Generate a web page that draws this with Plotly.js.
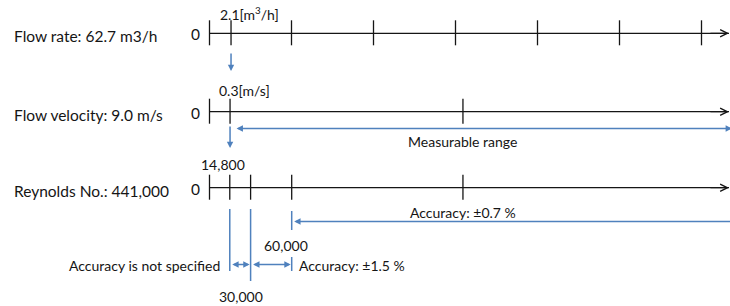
<!DOCTYPE html>
<html>
<head>
<meta charset="utf-8">
<script src="https://cdn.plot.ly/plotly-3.0.1.min.js"></script>
<style>html,body{margin:0;padding:0;background:#fff;}#chart{width:730px;height:306px;}</style>
</head>
<body>
<div id="chart"></div>
<script>
// ---- data ----
const rowLabels = ['Flow rate: 62.7 m3/h', 'Flow velocity: 9.0 m/s', 'Reynolds No.: 441,000'];
const flowTicks = [0, 2.1, 8, 16, 24, 32, 40, 48];      // m3/h
const velTicks = [0, 0.3, 3.7];                          // m/s
const reTicks = [0, 14800, 30000, 60000, 185000];        // Reynolds number
const flowMark = 2.1, flowMarkLabel = '2.1[m<sup>3</sup>/h]';
const velMark = 0.3, velMarkLabel = '0.3[m/s]';
const reMarks = [14800, 30000, 60000];
const reMarkLabels = ['14,800', '30,000', '60,000'];
const rangeLabel = 'Measurable range';
const accuracyLabels = ['Accuracy is not specified', 'Accuracy: \u00b11.5 %', 'Accuracy: \u00b10.7 %'];

// ---- layout geometry ----
const W = 730, H = 306, X0 = 209.5, XEND = 729;
const BLUE = '#4f81bd', INK = '#151515';
const FONT = {family: 'Lato, "Noto Sans", sans-serif', size: 14, color: INK};
const ROWFONT = {family: 'Lato, "Noto Sans", sans-serif', size: 15.5, color: INK};
const rows = [
  {ax: 'x',  s: 10.25,   y: 33.3,  ticks: flowTicks},
  {ax: 'x2', s: 68.5,    y: 111.7, ticks: velTicks},
  {ax: 'x3', s: 1.37e-3, y: 187.7, ticks: reTicks}
];
const u = (r, px) => (px - X0) / r.s; // pixel offset -> axis units (for positions)

const traces = [];
const annotations = [];
rows.forEach((r, i) => {
  const end = u(r, XEND);
  // axis line
  traces.push({x: [0, end], y: [r.y, r.y], xaxis: r.ax, yaxis: 'y', mode: 'lines',
    line: {color: INK, width: 1.3}, hoverinfo: 'skip', showlegend: false});
  // ticks
  const tx = [], ty = [];
  r.ticks.forEach(v => { tx.push(v, v, null); ty.push(r.y - 13, r.y + 12, null); });
  traces.push({x: tx, y: ty, xaxis: r.ax, yaxis: 'y', mode: 'lines',
    line: {color: INK, width: 1.3}, hoverinfo: 'skip', showlegend: false});
  // arrow head
  annotations.push({xref: r.ax, yref: 'y', axref: r.ax, ayref: 'y', x: end, y: r.y,
    ax: u(r, XEND - 20), ay: r.y, text: '', showarrow: true, arrowhead: 5,
    arrowwidth: 1.3, arrowsize: 1.1, arrowcolor: INK});
  // row label and zero label
  annotations.push({xref: 'paper', yref: 'y', x: 12 / W, y: r.y + 3, xanchor: 'left', yanchor: 'middle',
    text: rowLabels[i], showarrow: false, font: ROWFONT});
  annotations.push({xref: r.ax, yref: 'y', x: 0, y: r.y + 1, xanchor: 'right', yanchor: 'middle',
    xshift: -8, text: '0', showarrow: false, font: ROWFONT});
});

const F = rows[0], V = rows[1], R = rows[2];
// labelled marks
annotations.push({xref: 'x', yref: 'y', x: flowMark, y: 13.5, xanchor: 'left', xshift: -13,
  text: flowMarkLabel, showarrow: false, font: FONT});
annotations.push({xref: 'x2', yref: 'y', x: velMark, y: 90, xanchor: 'left', xshift: -13,
  text: velMarkLabel, showarrow: false, font: FONT});
annotations.push({xref: 'x3', yref: 'y', x: reMarks[0], y: 164, xanchor: 'center', xshift: -7,
  text: reMarkLabels[0], showarrow: false, font: FONT});
annotations.push({xref: 'x3', yref: 'y', x: reMarks[2], y: 245, xanchor: 'center', xshift: -6,
  text: reMarkLabels[2], showarrow: false, font: FONT});
annotations.push({xref: 'x3', yref: 'y', x: reMarks[1], y: 296, xanchor: 'center', xshift: -10,
  text: reMarkLabels[1], showarrow: false, font: FONT});

// blue down arrows
const blueArrow = (ax, x, y, axx, ayy, extra) => Object.assign({xref: ax, yref: 'y', axref: ax, ayref: 'y',
  x: x, y: y, ax: axx, ay: ayy, text: '', showarrow: true, arrowhead: 2, arrowsize: 0.85,
  arrowwidth: 1.5, arrowcolor: BLUE}, extra || {});
annotations.push(blueArrow('x', flowMark, 71, flowMark, 52));
annotations.push(blueArrow('x2', velMark, 148, velMark, 125));

// measurable range
annotations.push(blueArrow('x2', u(V, 732), 128.5, velMark, 128.5,
  {arrowside: 'end+start', startstandoff: 5, startarrowhead: 2, startarrowsize: 0.85}));
annotations.push({xref: 'x2', yref: 'y', x: velTicks[2], y: 141.5, xanchor: 'center',
  text: rangeLabel, showarrow: false, font: FONT});

// Reynolds accuracy bands
const bx = [], by = [];
[[reMarks[0], 209, 271], [reMarks[1], 209, 281], [reMarks[2], 211, 230], [reMarks[2], 257, 271]]
  .forEach(([v, a, b]) => { bx.push(v, v, null); by.push(a, b, null); });
traces.push({x: bx, y: by, xaxis: 'x3', yaxis: 'y', mode: 'lines',
  line: {color: BLUE, width: 1.5}, hoverinfo: 'skip', showlegend: false});
annotations.push(blueArrow('x3', u(R, 731), 221.5, reMarks[2], 221.5,
  {arrowhead: 0, arrowside: 'end+start', startarrowhead: 2, startarrowsize: 0.85, startstandoff: 1}));
annotations.push({xref: 'x3', yref: 'y', x: reTicks[4], y: 212.5, xanchor: 'center',
  text: accuracyLabels[2], showarrow: false, font: FONT});
annotations.push(blueArrow('x3', reMarks[1], 264.5, reMarks[0], 264.5,
  {arrowside: 'end+start', startarrowhead: 2, startarrowsize: 0.85, standoff: 1, startstandoff: 1}));
annotations.push(blueArrow('x3', reMarks[2], 264.5, reMarks[1], 264.5,
  {arrowside: 'end+start', startarrowhead: 2, startarrowsize: 0.85, standoff: 1, startstandoff: 1}));
annotations.push({xref: 'x3', yref: 'y', x: reMarks[0], y: 265, xanchor: 'right', xshift: -8,
  text: accuracyLabels[0], showarrow: false, font: FONT});
annotations.push({xref: 'x3', yref: 'y', x: reMarks[2], y: 265, xanchor: 'left', xshift: 5,
  text: accuracyLabels[1], showarrow: false, font: FONT});

const hidden = (r) => ({range: [u(r, 0), u(r, W)], domain: [0, 1], visible: false, fixedrange: true});
const layout = {
  width: W, height: H, margin: {l: 0, r: 0, t: 0, b: 0},
  paper_bgcolor: '#fff', plot_bgcolor: '#fff', showlegend: false, font: FONT,
  xaxis: Object.assign(hidden(F), {anchor: 'y'}),
  xaxis2: Object.assign(hidden(V), {anchor: 'y', overlaying: 'x'}),
  xaxis3: Object.assign(hidden(R), {anchor: 'y', overlaying: 'x'}),
  yaxis: {range: [H, 0], domain: [0, 1], visible: false, fixedrange: true},
  annotations: annotations
};
Plotly.newPlot('chart', traces, layout, {displayModeBar: false, staticPlot: true});
</script>
</body>
</html>
